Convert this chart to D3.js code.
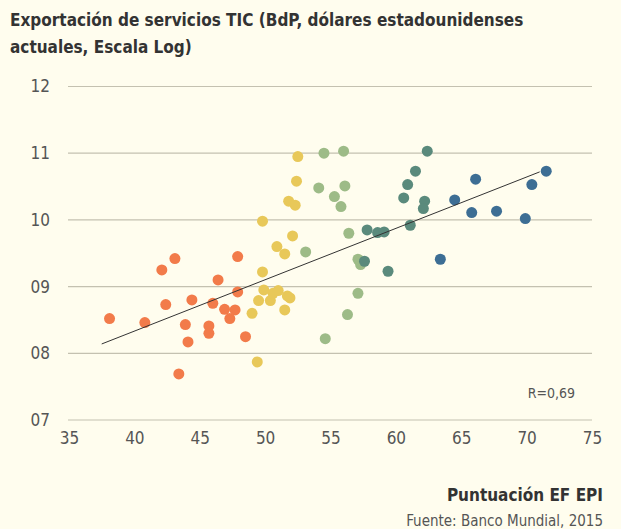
<!DOCTYPE html>
<html>
<head>
<meta charset="utf-8">
<script src="https://cdn.jsdelivr.net/npm/d3@7"></script>
<style>
  body { margin: 0; background: #fffdee; }
  svg { display: block; }
  text { font-family: "DejaVu Sans Condensed", "Liberation Sans Narrow", Roboto, sans-serif; }
</style>
</head>
<body>
<svg id="chart" width="621" height="529"></svg>
<script>
// EF EPI score (x) vs log ICT service exports (y), one array pair per colour group
const orangeX = [38.1, 40.8, 42.1, 43.1, 42.4, 43.4, 43.9, 44.1, 44.4, 45.7, 45.7, 46.0, 46.4, 46.9, 47.3, 47.7, 47.9, 47.9, 48.5];
const orangeY = [8.52, 8.46, 9.25, 9.42, 8.73, 7.69, 8.43, 8.17, 8.80, 8.41, 8.30, 8.75, 9.10, 8.66, 8.52, 8.65, 8.92, 9.45, 8.25];

const yellowX = [52.5, 52.4, 51.8, 52.3, 49.8, 52.1, 50.9, 51.5, 49.8, 49.9, 49.5, 50.4, 50.6, 51.0, 51.7, 51.9, 51.5, 49.0, 49.4];
const yellowY = [10.95, 10.58, 10.28, 10.22, 9.98, 9.76, 9.60, 9.49, 9.22, 8.95, 8.79, 8.79, 8.90, 8.94, 8.86, 8.83, 8.65, 8.60, 7.87];

const lightGreenX = [54.5, 56.0, 54.1, 56.1, 55.3, 55.8, 56.4, 53.1, 57.1, 57.3, 57.1, 56.3, 54.6];
const lightGreenY = [11.00, 11.03, 10.48, 10.51, 10.35, 10.20, 9.80, 9.52, 9.41, 9.33, 8.90, 8.58, 8.22];

const tealX = [62.4, 61.5, 60.9, 60.6, 62.2, 62.1, 57.8, 58.6, 59.1, 61.1, 57.6, 59.4];
const tealY = [11.03, 10.73, 10.53, 10.33, 10.28, 10.17, 9.85, 9.81, 9.82, 9.92, 9.38, 9.23];

const blueX = [71.5, 70.4, 66.1, 64.5, 65.8, 67.7, 69.9, 63.4];
const blueY = [10.73, 10.53, 10.61, 10.30, 10.11, 10.13, 10.02, 9.41];

const trendX = [37.5, 71.0];
const trendY = [8.14, 10.72];

const xTicks = [35, 40, 45, 50, 55, 60, 65, 70, 75];
const yTicks = [7, 8, 9, 10, 11, 12];
const yTickLabels = ["07", "08", "09", "10", "11", "12"];

const groups = [
    { xs: orangeX, ys: orangeY, color: "#f27b4a" },
    { xs: yellowX, ys: yellowY, color: "#e8c859" },
    { xs: lightGreenX, ys: lightGreenY, color: "#9dbb87" },
    { xs: tealX, ys: tealY, color: "#5a8a7c" },
    { xs: blueX, ys: blueY, color: "#3d6e94" }
];

const svg = d3.select("#chart");

const x = d3.scaleLinear().domain([35, 75]).range([69, 592]);
const y = d3.scaleLinear().domain([7, 12]).range([420, 86.5]);

// title
const title = svg.append("text")
    .attr("x", 10)
    .attr("fill", "#333")
    .style("font-size", "17px")
    .style("font-weight", "bold");
title.append("tspan").attr("x", 10).attr("y", 26).text("Exportación de servicios TIC (BdP, dólares estadounidenses");
title.append("tspan").attr("x", 10).attr("y", 53).text("actuales, Escala Log)");

// gridlines
svg.append("g")
    .selectAll("line")
    .data(yTicks)
    .enter()
    .append("line")
    .attr("x1", 68)
    .attr("x2", 592)
    .attr("y1", d => y(d))
    .attr("y2", d => y(d))
    .attr("stroke", "#c4c1b0")
    .attr("stroke-width", 1.2);

// y axis labels
const yAxis = svg.append("g")
    .attr("transform", "translate(50,0)")
    .call(d3.axisLeft(y).tickValues(yTicks).tickSize(0).tickPadding(0)
        .tickFormat((d, i) => yTickLabels[i]));
yAxis.select(".domain").remove();
yAxis.selectAll("text").attr("fill", "#555").style("font-size", "17px");

// x axis labels
const xAxis = svg.append("g")
    .attr("transform", "translate(0,432)")
    .call(d3.axisBottom(x).tickValues(xTicks).tickSize(0).tickPadding(0));
xAxis.select(".domain").remove();
xAxis.selectAll("text").attr("fill", "#555").style("font-size", "17px");

// dots
groups.forEach(g => {
    svg.append("g")
        .selectAll("circle")
        .data(g.xs.map((v, i) => [v, g.ys[i]]))
        .enter()
        .append("circle")
        .attr("cx", d => x(d[0]))
        .attr("cy", d => y(d[1]))
        .attr("r", 5.5)
        .attr("fill", g.color);
});

// trend line
svg.append("line")
    .attr("x1", x(trendX[0]))
    .attr("y1", y(trendY[0]))
    .attr("x2", x(trendX[1]))
    .attr("y2", y(trendY[1]))
    .attr("stroke", "#333")
    .attr("stroke-width", 1);

svg.append("text")
    .attr("x", 575).attr("y", 398)
    .attr("text-anchor", "end")
    .attr("fill", "#555")
    .style("font-size", "14px")
    .text("R=0,69");

svg.append("text")
    .attr("x", 603).attr("y", 501)
    .attr("text-anchor", "end")
    .attr("fill", "#333")
    .style("font-size", "17px")
    .style("font-weight", "bold")
    .text("Puntuación EF EPI");

svg.append("text")
    .attr("x", 603).attr("y", 526)
    .attr("text-anchor", "end")
    .attr("fill", "#555")
    .style("font-size", "15px")
    .text("Fuente: Banco Mundial, 2015");
</script>
</body>
</html>
